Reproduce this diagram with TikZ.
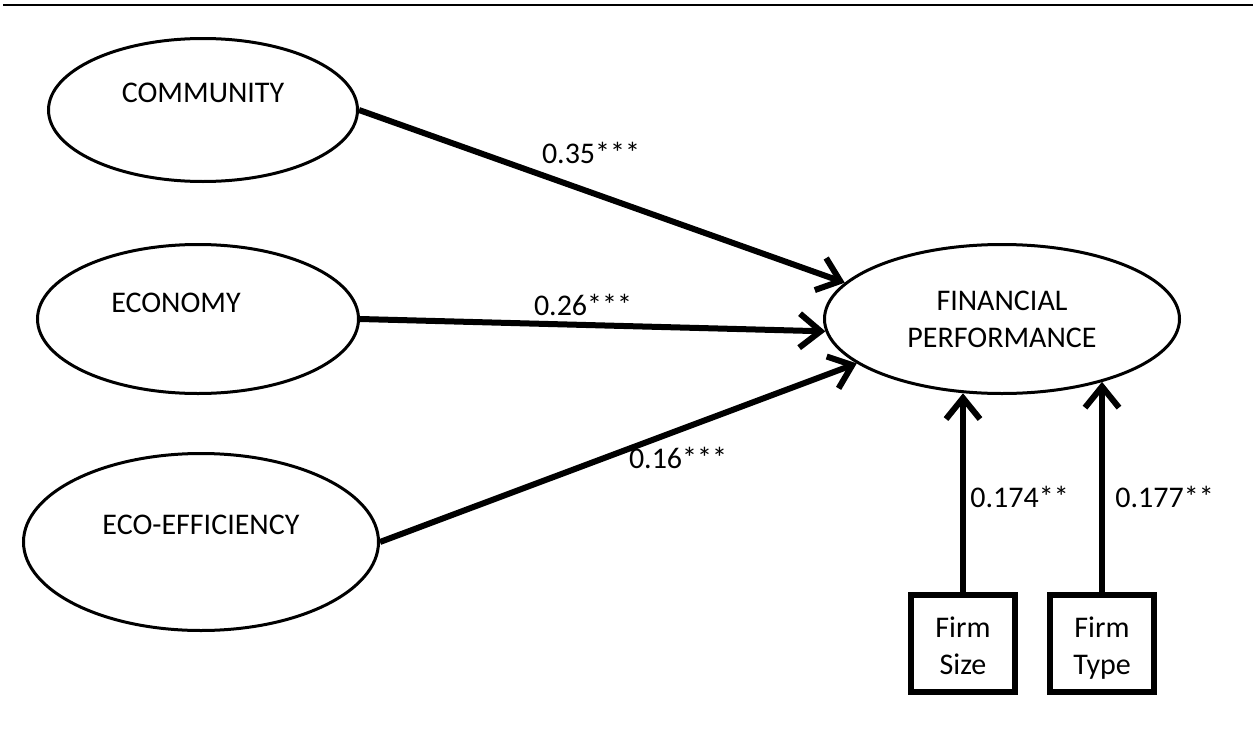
\documentclass[tikz,border=0pt]{standalone}
\usepackage{fontspec}
\setmainfont{Carlito}
\usetikzlibrary{shapes.geometric,arrows.meta}
\tikzset{
    latent/.style={ellipse,draw,line width=1.5pt,inner sep=0pt},
    ctrl/.style={rectangle,draw,line width=3pt,minimum width=52pt,minimum height=48.5pt,inner sep=0pt},
    lbl/.style={inner sep=0pt,align=center,font=\fontsize{15}{18.5}\selectfont},
    path/.style={->,line width=3pt,>={Straight Barb[length=10.5pt,width=17pt]}}
}
\begin{document}
\begin{tikzpicture}[x=0.5pt,y=-0.5pt]
        \useasboundingbox (0,0) rectangle (1253,744);
        \draw[line width=0.85pt] (3,5) -- (1253,5);
        \node[latent,minimum width=154.5pt,minimum height=71.5pt] (comm) at (203,110) {};
        \node[latent,minimum width=160.5pt,minimum height=74.5pt] (econ) at (198,319) {};
        \node[latent,minimum width=177.5pt,minimum height=88.5pt] (ecoeff) at (201,542) {};
        \node[latent,minimum width=177.5pt,minimum height=74.5pt,align=center,font=\fontsize{15}{18.5}\selectfont] (finperf) at (1002,319) {FINANCIAL\\PERFORMANCE};
        \node[lbl] (commtxt) at ([yshift=8.5pt]comm.center) {COMMUNITY};
        \node[lbl] (econtxt) at ([xshift=-11pt,yshift=8pt]econ.center) {ECONOMY};
        \node[lbl] (ecoefftxt) at ([yshift=8.5pt]ecoeff.center) {ECO-EFFICIENCY};
        \node[ctrl] (fsize) at (963,643) {};
        \node[ctrl] (ftype) at (1102,643) {};
        \node[lbl] (fsizetxt) at ([yshift=-2.75pt]fsize.center) {Firm\strut\\Size\strut};
        \node[lbl] (ftypetxt) at ([yshift=-2.75pt]ftype.center) {Firm\strut\\Type\strut};
        \draw[path] (comm.east) -- (finperf.167);
        \draw[path] (econ.east) -- (finperf.184);
        \draw[path] (ecoeff.east) -- (finperf.197);
        \draw[path] (fsize.north) -- (fsize.north |- finperf.-117);
        \draw[path] (ftype.north) -- (ftype.north |- finperf.-32);
        \node[lbl] (b1) at (591,153) {0.35***};
        \node[lbl] (b2) at (583,305) {0.26***};
        \node[lbl] (b3) at (678,458) {0.16***};
        \node[lbl,anchor=west] (b4) at (970,497) {0.174**};
        \node[lbl,anchor=west] (b5) at (1115,497) {0.177**};
    \end{tikzpicture}
\end{document}
